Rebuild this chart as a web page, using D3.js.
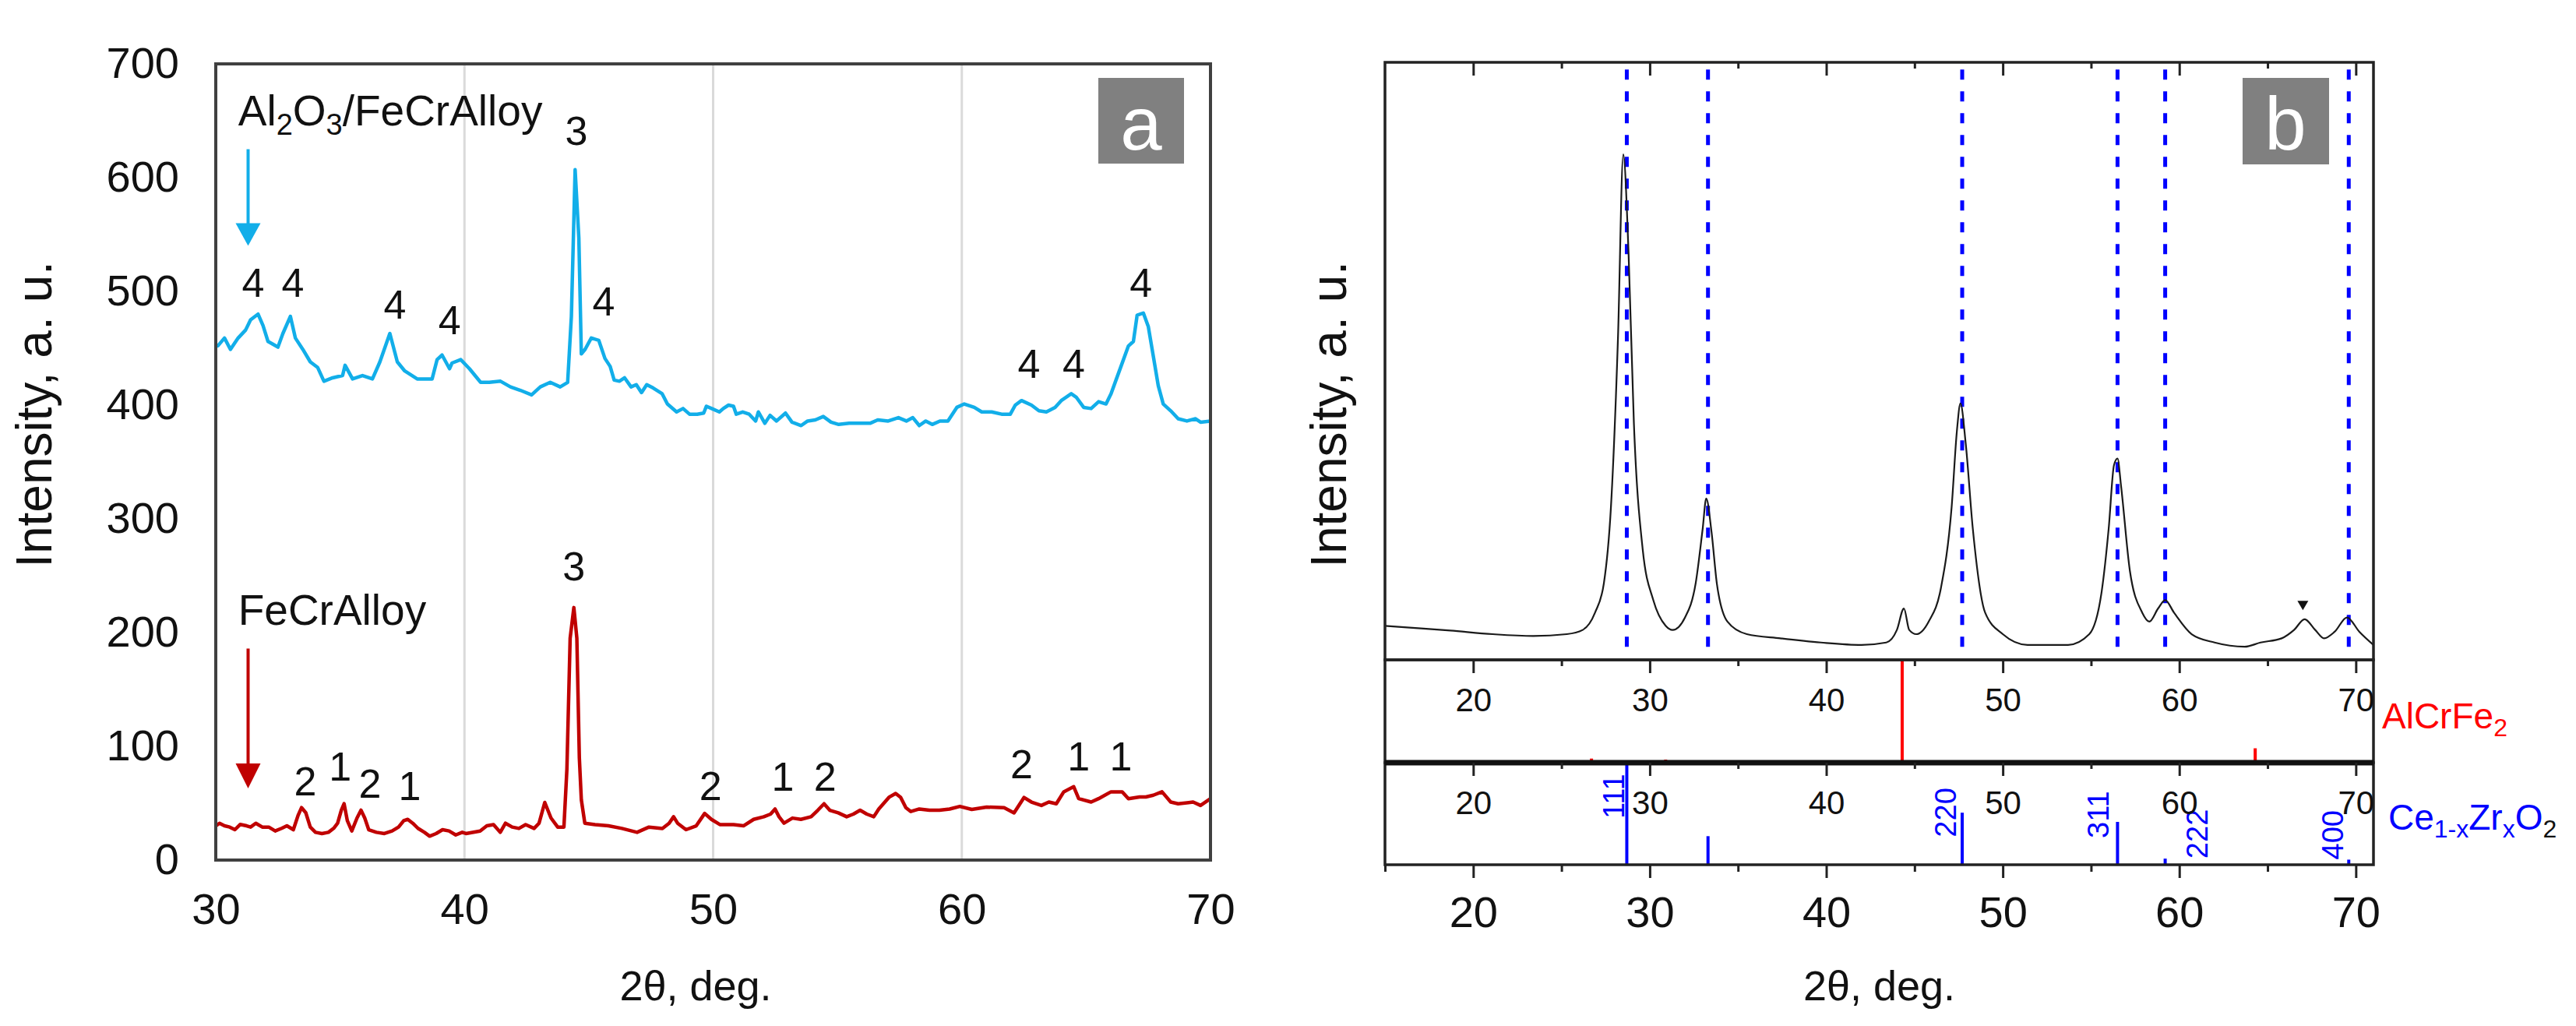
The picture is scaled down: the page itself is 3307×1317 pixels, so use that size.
<!DOCTYPE html>
<html>
<head>
<meta charset="utf-8">
<script src="https://cdnjs.cloudflare.com/ajax/libs/d3/7.8.5/d3.min.js"></script>
<style>
    body { margin: 0; background: #fff; }
    text { font-family: "Liberation Sans", Arial, Helvetica, sans-serif; }
</style>
</head>
<body>
<script>
// ---- panel a : Al2O3/FeCrAlloy (blue) and FeCrAlloy (red) patterns ----
var aluminaX = [30.0,30.08,30.35,30.59,30.9,31.2,31.4,31.7,31.9,32.1,32.5,32.7,33.0,33.2,33.5,33.8,34.1,34.35,34.7,35.1,35.2,35.5,35.9,36.3,36.6,37.0,37.3,37.6,38.1,38.7,38.9,39.1,39.4,39.5,39.85,40.2,40.65,41.0,41.45,41.85,42.25,42.7,43.05,43.45,43.85,44.15,44.3,44.45,44.6,44.7,44.85,45.1,45.4,45.65,
    45.86,46.02,46.23,46.44,46.7,46.91,47.12,47.33,47.59,47.95,48.16,48.53,48.79,49.05,49.36,49.62,49.73,49.94,50.25,50.41,50.62,50.82,50.93,51.19,51.45,51.71,51.82,52.08,52.29,52.55,52.91,53.17,53.54,53.8,54.11,54.43,54.74,55.05,55.47,55.89,56.31,56.62,57.04,57.45,57.77,58.03,58.29,58.55,58.81,59.12,59.44,
    59.8,60.1,60.5,60.8,61.2,61.6,61.95,62.15,62.4,62.8,63.1,63.4,63.75,64.0,64.4,64.6,64.9,65.2,65.5,65.8,66.0,66.2,66.4,66.7,66.9,67.05,67.3,67.5,67.7,67.9,68.1,68.4,68.7,69.05,69.4,69.6,70.0];
var aluminaY = [452,452,459,449,459,466,475,480,470,456,451,463,478,459,449,438,433,421,424,426,435,423,426,423,438,463,438,430,423,423,440,444,432,437,440,432,420,420,421,416,413,409,416,420,416,420,478,607,547,445,449,459,457,441,
    434,422,421,424,416,418,411,418,415,410,401,394,397,392,392,393,399,397,394,397,400,399,392,394,392,386,394,384,391,386,393,385,382,386,387,390,385,383,384,384,384,387,386,389,386,389,382,386,383,386,386,
    398,401,398,394,394,392,392,400,404,400,395,394,398,404,410,407,398,397,403,401,410,422,434,452,456,479,481,469,443,417,401,395,388,386,388,385,386];

var alloyX = [30.0,30.15,30.35,30.56,30.77,30.98,31.24,31.4,31.61,31.87,32.13,32.39,32.65,32.86,33.12,33.31,33.45,33.62,33.8,34.01,34.27,34.53,34.74,34.9,35.05,35.16,35.29,35.47,35.68,35.84,35.99,36.15,36.46,36.78,37.09,37.35,37.56,37.72,37.92,38.13,38.39,38.6,38.86,39.12,39.38,39.65,39.91,40.06,40.63,40.9,41.17,
    41.44,41.65,41.92,42.19,42.46,42.8,43.0,43.23,43.48,43.75,44.0,44.12,44.25,44.4,44.52,44.62,44.7,44.84,45.25,45.79,46.33,46.94,47.42,47.96,48.23,48.41,48.57,48.91,49.32,49.66,49.93,50.27,50.82,51.22,51.63,52.04,52.31,52.49,52.65,52.85,
    53.19,53.53,53.94,54.21,54.46,54.69,55.03,55.37,55.64,55.91,56.18,56.46,56.66,57.07,57.34,57.54,57.75,57.95,58.29,58.7,59.1,59.51,59.92,60.4,61.0,61.7,62.1,62.5,62.8,63.2,63.5,63.8,64.1,64.5,64.7,65.2,65.5,66.0,66.45,66.7,67.15,67.4,67.7,68.05,68.4,68.7,69.3,69.6,70.0];
var alloyY = [30,32.4,30.1,29,26.7,31.3,30.1,29,32.4,29,29,25.6,27.9,30.1,26.7,39.3,46.1,41.6,29,24.4,23.3,24.4,27.9,32.4,43.9,49.6,34.7,25.6,37,43.9,37,26.7,24.4,23.3,25.6,29,34.7,35.8,32.4,27.9,24.4,21,23.3,26.7,25.6,22.1,24.4,23.3,25.5,30.1,31.2,
    24.4,32.4,29,27.8,31.2,27.8,32.4,50.7,37,29,29,80,195,222,195,90,53,32.4,31.2,30.1,27.8,24.4,29,27.8,32.4,38.1,32.4,26.7,30.1,41,35.8,31.2,31.2,30.1,35.8,38.1,40.4,44.9,38.1,32.4,
    36.9,35.8,38.1,43.8,49.5,43.8,41.5,38.1,40.4,43.8,40.4,38.1,44.9,55.2,58.6,55.2,46.1,42.7,44.9,43.8,43.8,44.9,47.2,44.5,46.6,46,41.5,55,51,48,51,49.5,60,64.5,54,51,54,60,60,54,55.5,55.5,57,60,51,49.5,51,48,54];

var xTicksA = [30, 40, 50, 60, 70];
var yTicksA = [0, 100, 200, 300, 400, 500, 600, 700];
var gridA = [40, 50, 60];

// peak numbers: [2theta, intensity at text baseline, label]
var aluminaPeaks = [[31.5,495,"4"],[33.1,495,"4"],[37.2,476,"4"],[39.4,462,"4"],[44.5,629,"3"],[45.6,479,"4"],[62.7,424,"4"],[64.5,424,"4"],[67.2,495,"4"]];
var alloyPeaks = [[33.6,57,"2"],[35.0,70,"1"],[36.2,55,"2"],[37.8,53,"1"],[44.4,246,"3"],[49.9,53,"2"],[52.8,61,"1"],[54.5,61,"2"],[62.4,72,"2"],[64.7,79,"1"],[66.4,79,"1"]];

// ---- panel b : Ce1-xZrxO2 catalyst pattern with reference sticks ----
var sampleX = [15.0,16.4,18.7,21.1,23.4,25.3,26.2,26.9,27.4,27.8,28.2,28.5,28.8,29.1,29.6,30.2,30.9,31.3,32.0,32.6,33.0,33.2,33.5,33.8,34.4,35.5,37.4,39.7,42.0,43.4,44.0,44.4,44.7,45.1,45.8,46.5,47.1,47.4,47.6,47.9,48.3,49.0,50.0,51.4,53.7,54.9,55.6,56.0,56.3,56.5,56.7,57.2,57.9,58.3,58.8,59.2,59.7,60.7,62.0,63.7,64.6,65.8,66.5,67.1,67.7,68.2,68.8,69.5,70.2,71.0];
var sampleY = [5.7,5.4,4.9,4.3,4.0,4.3,5.0,7.9,12.8,25.5,53.9,84.6,68,39.7,18.5,10.0,5.7,5.0,7.1,12.8,22.0,27.0,21.4,12.8,6.4,4.3,3.6,2.9,2.5,2.9,5.0,8.6,5.0,4.3,6.4,12.1,25.5,38.3,42.9,36.2,22.0,7.9,4.3,2.5,2.5,4.3,11.4,22.0,32.6,33.7,29.1,14.9,7.9,6.4,8.6,10.0,7.9,4.3,2.9,2.2,2.9,3.6,5.0,6.8,5.0,3.6,4.7,7.1,4.7,2.5];

var ceriaLines = [28.7, 33.3, 47.7, 56.5, 59.2, 69.6];
var alcrfeStickX = [26.7, 30.9, 44.3, 52.4, 64.3];
var alcrfeStickH = [4, 3, 100, 1.5, 14];
var ceriaStickX = [28.7, 33.3, 47.7, 56.5, 59.2, 69.6];
var ceriaStickH = [100, 28, 51, 42, 6, 5];
// hkl labels: [baseline 2theta, start height, text]
var ceriaHkl = [[28.55,45,"111"],[47.35,27,"220"],[56.0,26,"311"],[61.6,6,"222"],[69.3,5,"400"]];
var impurityMark = [67.0, 8.3];

var xTicksB = [20, 30, 40, 50, 60, 70];
var xMinorB = [15, 25, 35, 45, 55, 65];

var font = '"Liberation Sans", Arial, Helvetica, sans-serif';

var svg = d3.select("body")
    .append("svg")
    .attr("width", 3307)
    .attr("height", 1317);

// ================= panel a =================
var xa = d3.scaleLinear().domain([30, 70]).range([277, 1554]);
var ya = d3.scaleLinear().domain([0, 700]).range([1104, 82]);

svg.selectAll(".grid-a")
    .data(gridA)
    .enter()
    .append("line")
    .attr("class", "grid-a")
    .attr("x1", function (d) { return xa(d); })
    .attr("x2", function (d) { return xa(d); })
    .attr("y1", ya(700))
    .attr("y2", ya(0))
    .attr("stroke", "#dadada")
    .attr("stroke-width", 3);

var lineA = d3.line()
    .x(function (d) { return xa(d[0]); })
    .y(function (d) { return ya(d[1]); });

svg.append("path")
    .datum(d3.zip(aluminaX, aluminaY))
    .attr("d", lineA)
    .attr("fill", "none")
    .attr("stroke", "#12aee9")
    .attr("stroke-width", 4.5)
    .attr("stroke-linejoin", "round");

svg.append("path")
    .datum(d3.zip(alloyX, alloyY))
    .attr("d", lineA)
    .attr("fill", "none")
    .attr("stroke", "#c00000")
    .attr("stroke-width", 4.5)
    .attr("stroke-linejoin", "round");

svg.append("rect")
    .attr("x", xa(30))
    .attr("y", ya(700))
    .attr("width", xa(70) - xa(30))
    .attr("height", ya(0) - ya(700))
    .attr("fill", "none")
    .attr("stroke", "#404040")
    .attr("stroke-width", 4);

var axA = svg.append("g")
    .attr("transform", "translate(" + xa(30) + ",0)")
    .call(d3.axisLeft(ya).tickValues(yTicksA).tickSize(0).tickPadding(47));
var axAx = svg.append("g")
    .attr("transform", "translate(0," + ya(0) + ")")
    .call(d3.axisBottom(xa).tickValues(xTicksA).tickSize(0).tickPadding(42));
[axA, axAx].forEach(function (g) {
    g.select(".domain").remove();
    g.attr("font-family", font).attr("font-size", 56);
    g.selectAll("text").attr("fill", "#111");
});

// peak numbers
svg.selectAll(".peak-a")
    .data(aluminaPeaks.concat(alloyPeaks))
    .enter()
    .append("text")
    .attr("x", function (d) { return xa(d[0]); })
    .attr("y", function (d) { return ya(d[1]); })
    .attr("text-anchor", "middle")
    .attr("font-size", 52)
    .attr("fill", "#111")
    .text(function (d) { return d[2]; });

// sample names with arrows
var t1 = svg.append("text")
    .attr("x", xa(30.9))
    .attr("y", ya(646))
    .attr("font-size", 55)
    .attr("fill", "#111");
t1.append("tspan").text("Al");
t1.append("tspan").attr("dy", 12).attr("font-size", 38).text("2");
t1.append("tspan").attr("dy", -12).text("O");
t1.append("tspan").attr("dy", 12).attr("font-size", 38).text("3");
t1.append("tspan").attr("dy", -12).text("/FeCrAlloy");

svg.append("text")
    .attr("x", xa(30.9))
    .attr("y", ya(207))
    .attr("font-size", 55)
    .attr("fill", "#111")
    .text("FeCrAlloy");

function arrow(x, yTop, yBase, yTip, color) {
    svg.append("line")
        .attr("x1", xa(x)).attr("x2", xa(x))
        .attr("y1", ya(yTop)).attr("y2", ya(yBase) + 2)
        .attr("stroke", color)
        .attr("stroke-width", 4);
    svg.append("path")
        .attr("d", "M" + (xa(x) - 16) + "," + ya(yBase) + "L" + (xa(x) + 16) + "," + ya(yBase) +
            "L" + xa(x) + "," + ya(yTip) + "Z")
        .attr("fill", color);
}
arrow(31.3, 625, 560, 540, "#12aee9");
arrow(31.3, 186, 85, 63, "#c00000");

// panel tag
svg.append("rect")
    .attr("x", 1410).attr("y", 100)
    .attr("width", 110).attr("height", 110)
    .attr("fill", "#808080");
svg.append("text")
    .attr("x", 1465).attr("y", 192)
    .attr("text-anchor", "middle")
    .attr("font-size", 96)
    .attr("fill", "#fff")
    .text("a");

svg.append("text")
    .attr("transform", "translate(66,532) rotate(-90)")
    .attr("text-anchor", "middle")
    .attr("font-size", 64)
    .attr("fill", "#111")
    .text("Intensity, a. u.");

svg.append("text")
    .attr("x", 893)
    .attr("y", 1284)
    .attr("text-anchor", "middle")
    .attr("font-size", 54)
    .attr("fill", "#111")
    .text("2θ, deg.");

// ================= panel b =================
var xb = d3.scaleLinear().domain([15, 71]).range([1778, 3047]);
var yb = d3.scaleLinear().domain([0, 100]).range([847, 80]);
var ys1 = d3.scaleLinear().domain([0, 100]).range([979, 847]);
var ys2 = d3.scaleLinear().domain([0, 100]).range([1110, 979]);

// dotted guide lines at the fluorite reflections
svg.selectAll(".guide")
    .data(ceriaLines)
    .enter()
    .append("line")
    .attr("x1", function (d) { return xb(d); })
    .attr("x2", function (d) { return xb(d); })
    .attr("y1", yb(98.8))
    .attr("y2", yb(2.2))
    .attr("stroke", "#0000ff")
    .attr("stroke-width", 5)
    .attr("stroke-dasharray", "13,15");

var lineB = d3.line()
    .x(function (d) { return xb(d[0]); })
    .y(function (d) { return yb(d[1]); })
    .curve(d3.curveMonotoneX);

svg.append("path")
    .datum(d3.zip(sampleX, sampleY))
    .attr("d", lineB)
    .attr("fill", "none")
    .attr("stroke", "#1a1a1a")
    .attr("stroke-width", 2.2);

svg.append("path")
    .attr("d", "M" + (xb(impurityMark[0]) - 7) + "," + (yb(impurityMark[1]) - 12) +
        "L" + (xb(impurityMark[0]) + 7) + "," + (yb(impurityMark[1]) - 12) +
        "L" + xb(impurityMark[0]) + "," + yb(impurityMark[1]) + "Z")
    .attr("fill", "#111");

// reference sticks
svg.selectAll(".stick1")
    .data(d3.zip(alcrfeStickX, alcrfeStickH))
    .enter()
    .append("line")
    .attr("x1", function (d) { return xb(d[0]); })
    .attr("x2", function (d) { return xb(d[0]); })
    .attr("y1", ys1(0))
    .attr("y2", function (d) { return ys1(d[1]); })
    .attr("stroke", "#ff0000")
    .attr("stroke-width", 4);

svg.selectAll(".stick2")
    .data(d3.zip(ceriaStickX, ceriaStickH))
    .enter()
    .append("line")
    .attr("x1", function (d) { return xb(d[0]); })
    .attr("x2", function (d) { return xb(d[0]); })
    .attr("y1", ys2(0))
    .attr("y2", function (d) { return ys2(d[1]); })
    .attr("stroke", "#0000ff")
    .attr("stroke-width", 4);

svg.selectAll(".hkl")
    .data(ceriaHkl)
    .enter()
    .append("text")
    .attr("transform", function (d) {
        return "translate(" + xb(d[0]) + "," + ys2(d[1]) + ") rotate(-90)";
    })
    .attr("font-size", 38)
    .attr("fill", "#0000ff")
    .text(function (d) { return d[2]; });

// frames
[[80, 847], [847, 979], [979, 1110]].forEach(function (p) {
    svg.append("rect")
        .attr("x", xb(15))
        .attr("y", p[0])
        .attr("width", xb(71) - xb(15))
        .attr("height", p[1] - p[0])
        .attr("fill", "none")
        .attr("stroke", "#222")
        .attr("stroke-width", 3.5);
});
svg.append("line")
    .attr("x1", xb(15)).attr("x2", xb(71))
    .attr("y1", 979).attr("y2", 979)
    .attr("stroke", "#111")
    .attr("stroke-width", 7);

// tick rows on each frame
function tickRow(y, size, values, labelled, fontSize, pad) {
    var g = svg.append("g")
        .attr("transform", "translate(0," + y + ")")
        .call(d3.axisBottom(xb).tickValues(values).tickSize(size).tickPadding(pad)
            .tickFormat(labelled ? d3.format("d") : ""));
    g.select(".domain").remove();
    g.attr("font-family", font).attr("font-size", fontSize);
    g.selectAll("line").attr("stroke", "#222").attr("stroke-width", 3);
    g.selectAll("text").attr("fill", "#111");
}
tickRow(80, 17, xTicksB, false, 42, 0);
tickRow(80, 8, xMinorB.slice(1), false, 42, 0);
tickRow(847, 17, xTicksB, true, 42, 19);
tickRow(847, 8, xMinorB.slice(1), false, 42, 0);
tickRow(979, 17, xTicksB, true, 42, 19);
tickRow(979, 8, xMinorB.slice(1), false, 42, 0);
tickRow(1110, 17, xTicksB, true, 56, 23);
tickRow(1110, 9, xMinorB, false, 56, 0);

// phase names
var p1 = svg.append("text")
    .attr("x", 3058).attr("y", 935)
    .attr("font-size", 46)
    .attr("fill", "#ff0000");
p1.append("tspan").text("AlCrFe");
p1.append("tspan").attr("dy", 10).attr("font-size", 32).text("2");

var p2 = svg.append("text")
    .attr("x", 3066).attr("y", 1065)
    .attr("font-size", 46)
    .attr("fill", "#0000ff");
p2.append("tspan").text("Ce");
p2.append("tspan").attr("dy", 10).attr("font-size", 32).text("1-x");
p2.append("tspan").attr("dy", -10).text("Zr");
p2.append("tspan").attr("dy", 10).attr("font-size", 32).text("x");
p2.append("tspan").attr("dy", -10).text("O");
p2.append("tspan").attr("dy", 10).attr("font-size", 32).attr("fill", "#111").text("2");

svg.append("rect")
    .attr("x", 2879).attr("y", 100)
    .attr("width", 111).attr("height", 111)
    .attr("fill", "#808080");
svg.append("text")
    .attr("x", 2934).attr("y", 192)
    .attr("text-anchor", "middle")
    .attr("font-size", 96)
    .attr("fill", "#fff")
    .text("b");

svg.append("text")
    .attr("transform", "translate(1728,532) rotate(-90)")
    .attr("text-anchor", "middle")
    .attr("font-size", 64)
    .attr("fill", "#111")
    .text("Intensity, a. u.");

svg.append("text")
    .attr("x", (xb(15) + xb(71)) / 2)
    .attr("y", 1284)
    .attr("text-anchor", "middle")
    .attr("font-size", 54)
    .attr("fill", "#111")
    .text("2θ, deg.");
</script>
</body>
</html>
